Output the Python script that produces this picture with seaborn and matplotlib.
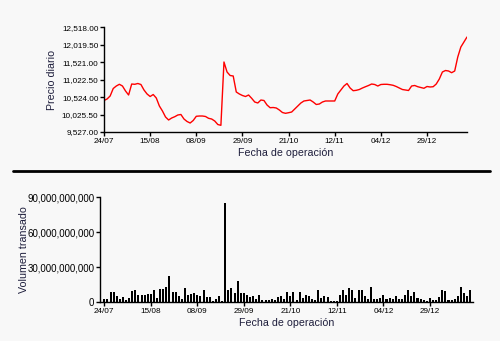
import numpy as np
import pandas as pd
import matplotlib
matplotlib.use("Agg")
import matplotlib.pyplot as plt
from matplotlib.lines import Line2D
from matplotlib.ticker import FuncFormatter
import seaborn as sns

# Trading-day labels shown on the x axis (one every 15 sessions)
tick_labels = ["24/07", "15/08", "08/09", "29/09", "21/10", "12/11", "04/12", "29/12"]
tick_step = 15

# Daily closing price
precio = [
    10427, 10470, 10556, 10770, 10841, 10890, 10841, 10698, 10584, 10898,
    10890, 10913, 10884, 10727, 10613, 10541, 10598, 10498, 10270, 10127,
    9956, 9870, 9927, 9964, 10013, 10027, 9898, 9827, 9784, 9856,
    9976, 9984, 9984, 9970, 9918, 9898, 9841, 9741, 9718, 11527,
    11241, 11141, 11127, 10670, 10613, 10570, 10541, 10584, 10490, 10384,
    10356, 10441, 10427, 10298, 10221, 10227, 10213, 10156, 10084, 10061,
    10078, 10098, 10184, 10270, 10356, 10413, 10427, 10441, 10384, 10313,
    10327, 10384, 10413, 10413, 10413, 10413, 10613, 10727, 10841, 10913,
    10784, 10707, 10718, 10741, 10784, 10821, 10856, 10898, 10884, 10841,
    10884, 10890, 10890, 10878, 10861, 10827, 10784, 10741, 10727, 10713,
    10841, 10856, 10821, 10798, 10776, 10827, 10813, 10821, 10898, 11041,
    11241, 11284, 11270, 11221, 11270, 11670, 11955, 12098, 12241,
]

# Daily traded volume, in billions
volumen_mm = [
    2.9, 2.9, 8.6, 8.6, 5.2, 2.9, 4.0, 2.0, 3.4, 9.2,
    10.0, 6.0, 6.0, 5.7, 6.6, 7.2, 10.6, 3.7, 11.2, 11.2,
    12.9, 22.6, 8.9, 8.9, 4.9, 2.9, 12.0, 6.0, 6.9, 7.5,
    6.3, 5.2, 10.3, 4.6, 4.6, 0.9, 2.6, 5.2, 0.9, 85.4,
    10.3, 12.0, 7.7, 18.1, 7.7, 7.7, 6.0, 4.3, 5.2, 2.6,
    6.0, 1.7, 1.7, 1.7, 2.6, 1.7, 4.3, 5.2, 2.6, 8.6,
    5.5, 8.6, 2.0, 8.8, 3.5, 5.8, 5.0, 2.6, 1.7, 10.3,
    3.3, 5.4, 4.2, 1.1, 0.9, 1.0, 5.7, 10.2, 6.3, 11.8,
    10.4, 3.2, 10.2, 10.2, 5.0, 3.0, 12.9, 2.5, 2.5, 3.2,
    5.8, 2.6, 3.4, 2.6, 5.2, 2.6, 2.6, 6.0, 10.3, 5.2,
    8.6, 3.4, 2.6, 1.7, 0.9, 3.4, 1.7, 1.7, 4.3, 10.3,
    9.5, 1.7, 1.7, 2.6, 5.2, 12.9, 7.7, 5.2, 10.3,
]

precio_ticks = [9527.0, 10025.5, 10524.0, 11022.5, 11521.0, 12019.5, 12518.0]
volumen_ticks = [0, 30e9, 60e9, 90e9]

dias = np.arange(len(precio))
df = pd.DataFrame({
    "dia": dias,
    "precio": precio,
    "volumen": np.array(volumen_mm) * 1e9,
})

bg = "#f8f8f8"
sns.set_theme(style="ticks")
plt.rcParams["font.family"] = ["Liberation Sans", "DejaVu Sans"]
plt.rcParams["axes.facecolor"] = bg
plt.rcParams["figure.facecolor"] = bg

fig = plt.figure(figsize=(5.0, 3.41), dpi=100)
label_color = "#1e1e3c"
tick_fs = 5.9
label_fs = 7.7

# --- Price panel ---
ax1 = fig.add_axes([0.208, 0.6129, 0.726, 0.307])
sns.lineplot(data=df, x="dia", y="precio", ax=ax1, color="#ff0000", linewidth=1.0)
ax1.set_xlim(0, len(precio) - 1)
ax1.set_ylim(precio_ticks[0], precio_ticks[-1])
ax1.set_yticks(precio_ticks)
ax1.yaxis.set_major_formatter(FuncFormatter(lambda v, p: f"{v:,.2f}"))
ax1.set_ylabel("Precio diario", fontsize=label_fs, color=label_color)
ax1.yaxis.set_label_coords(-0.129, 0.5)

# --- Volume panel ---
ax2 = fig.add_axes([0.200, 0.1144, 0.746, 0.307])
sns.barplot(data=df, x="dia", y="volumen", ax=ax2, color="black",
            width=0.65, native_scale=True, saturation=1, linewidth=0)
ax2.set_xlim(-1.4, 118.9)
ax2.set_ylim(0, 90e9)
ax2.set_yticks(volumen_ticks)
ax2.yaxis.set_major_formatter(FuncFormatter(lambda v, p: f"{v:,.0f}"))
ax2.set_ylabel("Volumen transado", fontsize=label_fs, color=label_color)
ax2.yaxis.set_label_coords(-0.19, 0.5)

for ax in (ax1, ax2):
    ax.set_xticks(np.arange(len(tick_labels)) * tick_step)
    ax.set_xticklabels(tick_labels)
    ax.set_xlabel("Fecha de operación", fontsize=label_fs, color=label_color)
    ax.xaxis.set_label_coords(0.5, -0.155)
    ax.tick_params(axis="both", labelsize=tick_fs, length=3, width=1,
                   direction="out", colors="black", pad=1)
    for side in ("top", "right"):
        ax.spines[side].set_visible(False)
    for side in ("left", "bottom"):
        ax.spines[side].set_color("black")
        ax.spines[side].set_linewidth(1)

# the long volume figures are set a little larger
ax2.tick_params(axis="y", labelsize=7.0)

# Separator between the two panels
fig.add_artist(Line2D([13 / 500, 490 / 500], [1 - 171 / 341] * 2,
                      color="black", linewidth=2))

fig.savefig("out.png", dpi=100, facecolor=bg)
